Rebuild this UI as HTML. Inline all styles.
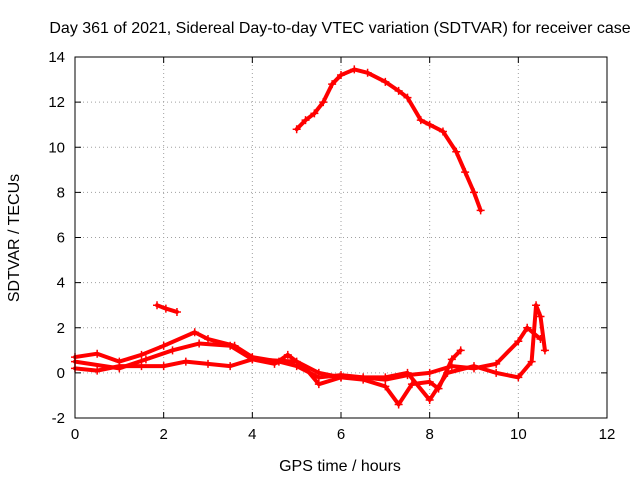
<!DOCTYPE html>
<html><head><meta charset="utf-8"><style>
body{margin:0;background:#fff}
svg{display:block;font-family:"Liberation Sans",sans-serif}
</style></head><body>
<svg id="chart" width="640" height="480" viewBox="0 0 640 480" xmlns="http://www.w3.org/2000/svg">
<rect width="640" height="480" fill="#fff"/>
<text x="340" y="33" font-size="16" text-anchor="middle">Day 361 of 2021, Sidereal Day-to-day VTEC variation (SDTVAR) for receiver case</text>
<text x="340" y="471" font-size="16" text-anchor="middle">GPS time / hours</text>
<text transform="translate(19,238) rotate(-90)" font-size="16" text-anchor="middle">SDTVAR / TECUs</text>
<g id="grid"></g><g id="series"></g><g id="axes"></g>
</svg>
<script>
const xTicks=[0,2,4,6,8,10,12];
const yTicks=[-2,0,2,4,6,8,10,12,14];
const arcT=[5.0,5.2,5.4,5.6,5.8,6.0,6.3,6.6,7.0,7.3,7.5,7.8,8.0,8.3,8.6,8.8,9.0,9.15];
const arcV=[10.8,11.2,11.5,12.0,12.8,13.2,13.45,13.3,12.9,12.5,12.2,11.2,11.0,10.7,9.8,8.9,8.0,7.2];
const segT=[1.85,2.05,2.3];
const segV=[3.0,2.85,2.7];
const s1T=[0,0.5,1.0,1.5,2.0,2.7,3.0,3.6,4.0,4.6,5.0,5.5,6.0,6.5,7.0,7.5,8.0,8.5,9.0,9.5,10.0,10.2,10.5];
const s1V=[0.7,0.85,0.5,0.8,1.2,1.8,1.5,1.2,0.7,0.5,0.3,-0.2,-0.1,-0.2,-0.3,-0.1,0.0,0.3,0.2,0.4,1.4,2.0,1.5];
const s2T=[0,0.5,1.0,1.5,2.0,2.5,3.0,3.5,4.0,4.5,4.8,5.2,5.5,6.0,6.5,7.0,7.3,7.6,8.0,8.2,8.5,8.7];
const s2V=[0.2,0.1,0.3,0.3,0.3,0.5,0.4,0.3,0.6,0.4,0.8,0.2,-0.5,-0.2,-0.3,-0.6,-1.4,-0.5,-0.4,-0.7,0.6,1.0];
const s3T=[0,1.0,1.6,2.2,2.8,3.5,4.0,5.0,5.5,6.0,7.0,7.5,8.0,8.4,9.0,9.5,10.0,10.3,10.4,10.5,10.6];
const s3V=[0.5,0.2,0.6,1.0,1.3,1.2,0.6,0.5,0.0,-0.2,-0.2,0.0,-1.2,0.0,0.3,0.0,-0.2,0.5,3.0,2.5,1.0];
const X0=75,X1=607,Y0=418,Y1=57;
const xs=t=>X0+(t-0)/(12-0)*(X1-X0);
const ys=v=>Y0-(v+2)/16*(Y0-Y1);
const NS='http://www.w3.org/2000/svg';
function mk(tag,attrs,parent){const e=document.createElementNS(NS,tag);for(const k in attrs)e.setAttribute(k,attrs[k]);parent.appendChild(e);return e;}
const grid=document.getElementById('grid'),axes=document.getElementById('axes'),ser=document.getElementById('series');
xTicks.forEach(t=>{
 if(t>0&&t<12){const g=mk('line',{x1:xs(t),x2:xs(t),y1:Y0,y2:Y1,stroke:'#a0a0a0','stroke-dasharray':'1,3'},grid);
 
 }
 const tk=mk('path',{d:`M${xs(t)},${Y0}v-6M${xs(t)},${Y1}v6`,stroke:'#000'},axes);
 
 
 const l=mk('text',{x:xs(t),y:Y0+21,'font-size':15,'text-anchor':'middle'},axes);l.textContent=t;
 
 
});
yTicks.forEach(v=>{
 if(v>-2&&v<14){const g=mk('line',{x1:X0,x2:X1,y1:ys(v),y2:ys(v),stroke:'#a0a0a0','stroke-dasharray':'1,3'},grid);
 
 }
 const tk=mk('path',{d:`M${X0},${ys(v)}h6M${X1},${ys(v)}h-6`,stroke:'#000'},axes);
 
 
 const l=mk('text',{x:X0-10,y:ys(v)+5,'font-size':15,'text-anchor':'end'},axes);l.textContent=v;
 
 
});
const fr=mk('rect',{x:X0,y:Y1,width:X1-X0,height:Y0-Y1,fill:'none',stroke:'#000'},axes);


function drawSeries(T,V,name){
 const pts=T.map((t,i)=>xs(t)+','+ys(V[i])).join(' ');
 const p=mk('polyline',{points:pts,fill:'none',stroke:'#ff0000','stroke-width':4,'stroke-linejoin':'round','stroke-linecap':'round'},ser);
 
 
 T.forEach((t,i)=>{const m=mk('path',{d:`M${xs(t)-4},${ys(V[i])}h8M${xs(t)},${ys(V[i])-4}v8`,stroke:'#ff0000','stroke-width':1.5},ser);
 
 });
}
drawSeries(arcT,arcV,'arc-series');
drawSeries(segT,segV,'short-segment');
drawSeries(s1T,s1V,'low-series-1');
drawSeries(s2T,s2V,'low-series-2');
drawSeries(s3T,s3V,'low-series-3');
</script>
</body></html>
